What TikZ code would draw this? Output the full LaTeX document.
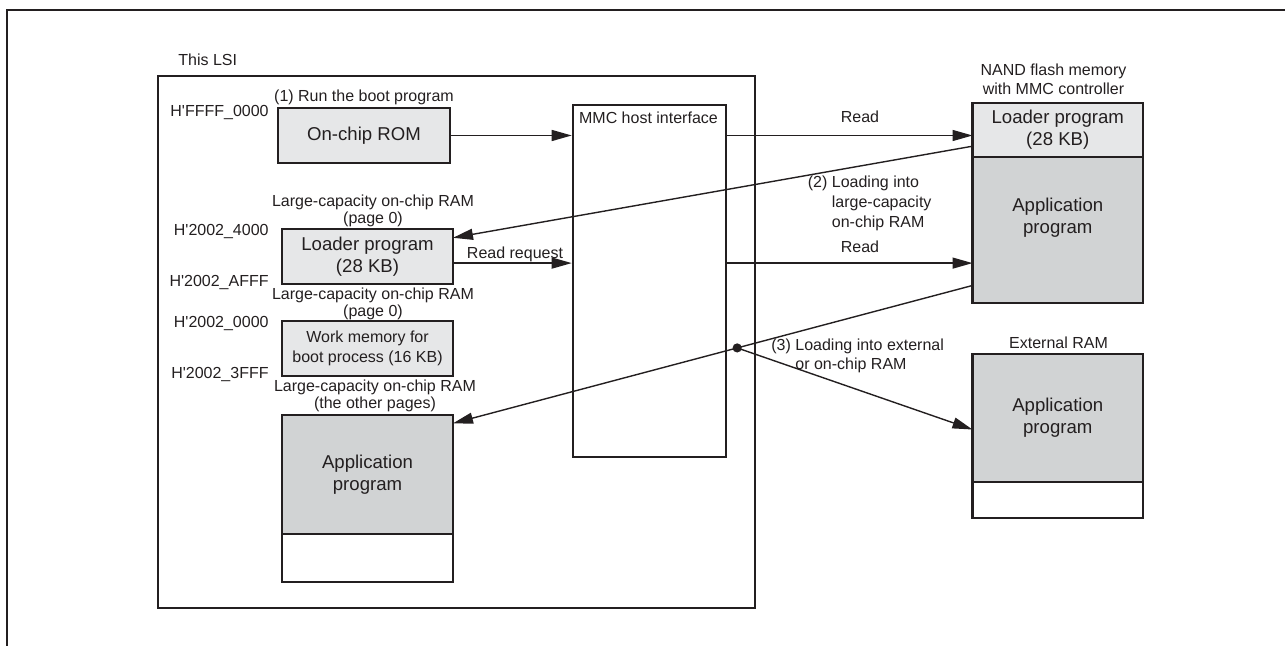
\documentclass[tikz,border=0pt]{standalone}
\usepackage{fontspec}
\setmainfont{Liberation Sans}
\usetikzlibrary{arrows.meta,positioning,calc}
\definecolor{ink}{HTML}{231F20}
\definecolor{romgray}{HTML}{E6E7E8}
\definecolor{appgray}{HTML}{D1D3D4}
\tikzset{
  lbl/.style={inner sep=0pt, font=\fontsize{8}{8.5}\selectfont, text=ink},
  addr/.style={lbl, anchor=east},
  boxtxt/.style={inner sep=0pt, font=\fontsize{9.3}{11}\selectfont, align=center, text=ink},
  mem/.style={boxtxt, draw=ink, line width=1.3pt, fill=romgray, outer sep=0pt, minimum width=85.5pt},
  app/.style={mem, fill=appgray},
  free/.style={mem, fill=white},
  flow/.style={draw=ink, line width=0.7pt, -{Triangle[length=10pt,width=5.5pt]}},
}
\begin{document}
\begin{tikzpicture}[x=0.5pt,y=-0.5pt]
   \useasboundingbox (0,0) rectangle (1285,646);
   % frame
   \draw[ink, line width=1.2pt] (7,646) |- (1285,10);

   % this LSI
   \node[draw=ink, line width=1pt, minimum width=298.5pt, minimum height=266pt, inner sep=0pt] (lsi) at (456.5,342) {};
   \node[lbl, anchor=west] (lsitxt) at (178,60) {This LSI};

   \node[mem, minimum width=86pt, minimum height=27.5pt] (rom) at (364,135.5) {On-chip ROM};
   \node[mem, minimum height=27.5pt] (ldr) at (367.5,256.5) {Loader program\\(28 KB)};
   \node[mem, minimum height=27.5pt, font=\fontsize{8}{10}\selectfont] (work) at (367.5,348.5) {Work memory for\\boot process (16 KB)};
   \node[app, minimum height=59.5pt] (lsiapp) at (367.5,474.5) {Application\\program};
   \node[free, minimum height=24pt, below=0pt of lsiapp] (lsifree) {};

   \node[lbl] (step1) at (364,97) {(1) Run the boot program};
   \node[lbl, align=center] (ram0a) at (373,211) {Large-capacity on-chip RAM\\(page 0)};
   \node[lbl, align=center] (ram0b) at (373,303.5) {Large-capacity on-chip RAM\\(page 0)};
   \node[lbl, align=center] (ramx) at (375,396) {Large-capacity on-chip RAM\\(the other pages)};

   \foreach \y/\addr/\id in {113/FFFF\_0000/a1, 232/2002\_4000/a2, 283/2002\_AFFF/a3, 324/2002\_0000/a4, 375/2002\_3FFF/a5}
      \node[addr] (\id) at (269,\y) {H\textquotesingle\addr};

   % MMC host interface
   \node[draw=ink, line width=1.3pt, minimum width=76.5pt, minimum height=176pt, inner sep=0pt] (mmc) at (649.5,281) {};
   \node[lbl, anchor=north west] (mmctxt) at ([xshift=3.5pt,yshift=-4pt]mmc.north west) {MMC host interface};

   % NAND flash memory
   \node[lbl, align=center, font=\fontsize{8}{9.5}\selectfont] (nandtxt) at (1053.5,79.5) {NAND flash memory\\with MMC controller};
   \node[mem, minimum width=85.25pt, minimum height=27pt] (nandldr) at (1057.75,130) {Loader program\\(28 KB)};
   \node[app, minimum width=85.25pt, minimum height=73pt, below=0pt of nandldr] (nandapp) {};
   \node[boxtxt] (nandapptxt) at (1057.75,217.5) {Application\\program};

   % external RAM
   \node[lbl] (exttxt) at (1058.5,343) {External RAM};
   \node[app, minimum width=85.25pt, minimum height=64pt] (extapp) at (1057.75,418) {Application\\program};
   \node[free, minimum width=85.25pt, minimum height=18pt, below=0pt of extapp] (extfree) {};

   % read paths
   \draw[flow] (rom.east) -- (rom.east -| mmc.west);
   \draw[flow] (rom.east -| mmc.east) -- (rom.east -| nandldr.west);
   \coordinate (req) at ($(ldr.north east)!0.62!(ldr.south east)$);
   \draw[flow] (req) -- (req -| mmc.west);
   \draw[flow] (req -| mmc.east) -- (req -| nandapp.west);
   \node[lbl] (rdreq) at (515,254) {Read request};
   \node[lbl] (rd1) at (860,117) {Read};
   \node[lbl] (rd2) at (860,247) {Read};

   % loading
   \draw[flow] ($(nandldr.north west)!0.8!(nandldr.south west)$) -- ($(ldr.north east)!0.16!(ldr.south east)$);
   \draw[flow] ($(nandapp.north west)!0.88!(nandapp.south west)$) -- coordinate[pos=0.453] (split) ($(lsiapp.north east)!0.07!(lsiapp.south east)$);
   \fill[ink] (split) circle (2.3pt);
   \draw[flow] (split) -- ($(extapp.north west)!0.59!(extapp.south west)$);

   \node[lbl, anchor=west, align=left, font=\fontsize{8}{10}\selectfont] (step2) at (807.5,203) {(2) Loading into\\\hphantom{(2) }large-capacity\\\hphantom{(2) }on-chip RAM};
   \node[lbl, anchor=west, align=left, font=\fontsize{8}{9.5}\selectfont] (step3) at (771,355.5) {(3) Loading into external\\\hphantom{(3) }or on-chip RAM};
\end{tikzpicture}
\end{document}
